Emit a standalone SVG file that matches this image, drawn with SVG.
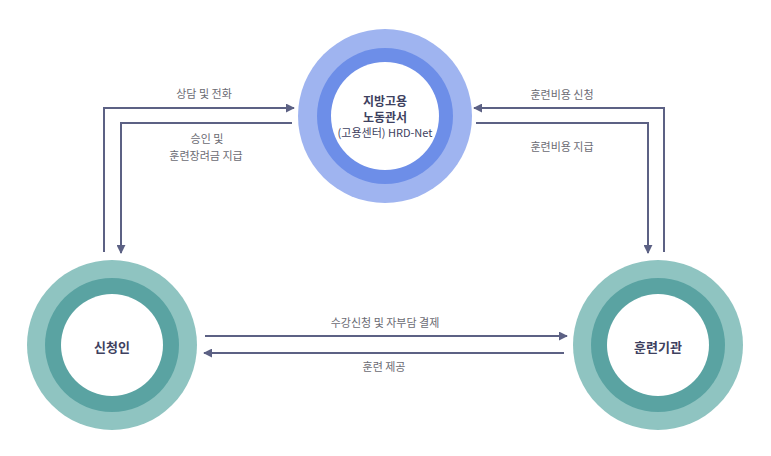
<svg xmlns="http://www.w3.org/2000/svg" width="771" height="456" viewBox="0 0 771 456">
<defs>
<style>
.lbl{font-family:"Noto Sans CJK KR","Noto Sans",sans-serif;font-size:11px;fill:#6b6b73;text-anchor:middle}
.nt{font-family:"Noto Sans CJK KR","Noto Sans",sans-serif;font-size:13px;font-weight:bold;fill:#3e4160;text-anchor:middle}
.ns{font-family:"Noto Sans CJK KR","Noto Sans",sans-serif;font-size:11px;font-weight:normal;fill:#3e4160;text-anchor:middle}
.ln{fill:none;stroke:#5c6184;stroke-width:2}
</style>
<marker id="ah" viewBox="0 0 10 10" refX="9" refY="5" markerWidth="9" markerHeight="9" markerUnits="userSpaceOnUse" orient="auto">
<path d="M0,0 L10,5 L0,10 Z" fill="#5c6184"/>
</marker>
</defs>
<rect width="771" height="456" fill="#ffffff"/>
<g id="connectors">
<path class="ln" d="M104,252 V108 H294" marker-end="url(#ah)"/>
<path class="ln" d="M292,123 H121 V253" marker-end="url(#ah)"/>
<path class="ln" d="M664,252 V108 H474" marker-end="url(#ah)"/>
<path class="ln" d="M476,123 H648 V253" marker-end="url(#ah)"/>
<path class="ln" d="M205,336 H567" marker-end="url(#ah)"/>
<path class="ln" d="M564,353 H204" marker-end="url(#ah)"/>
<text class="lbl" x="204" y="98">상담 및 전화</text>
<text class="lbl" x="207" y="143">승인 및</text>
<text class="lbl" x="206" y="160">훈련장려금 지급</text>
<text class="lbl" x="562" y="99">훈련비용 신청</text>
<text class="lbl" x="562" y="151">훈련비용 지급</text>
<text class="lbl" x="385" y="327">수강신청 및 자부담 결제</text>
<text class="lbl" x="384" y="371">훈련 제공</text>
</g>
<g id="node-office">
<circle cx="385" cy="116" r="87" fill="#9fb4f0"/>
<circle cx="385" cy="116" r="68" fill="#6d8ee8"/>
<circle cx="385" cy="116" r="54" fill="#ffffff"/>
<text class="nt" style="font-size:12px" x="385" y="106">지방고용</text>
<text class="nt" style="font-size:12px" x="385" y="122">노동관서</text>
<text class="ns" x="385" y="137">(고용센터) HRD-Net</text>
</g>
<g id="node-applicant">
<circle cx="112" cy="345" r="85" fill="#8fc4c1"/>
<circle cx="112" cy="345" r="67" fill="#5aa3a2"/>
<circle cx="112" cy="345" r="51" fill="#ffffff"/>
<text class="nt" x="112" y="352">신청인</text>
</g>
<g id="node-institution">
<circle cx="658" cy="345" r="85" fill="#8fc4c1"/>
<circle cx="658" cy="345" r="67" fill="#5aa3a2"/>
<circle cx="658" cy="345" r="51" fill="#ffffff"/>
<text class="nt" x="658" y="352">훈련기관</text>
</g>
</svg>
